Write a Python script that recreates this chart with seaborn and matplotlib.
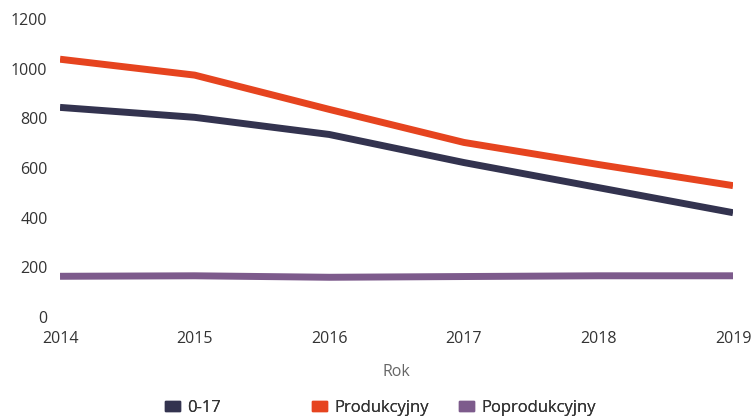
import pandas as pd
import matplotlib.pyplot as plt
import matplotlib.patches as mpatches
import seaborn as sns

# dane
lata = [2014, 2015, 2016, 2017, 2018, 2019]
grupa_0_17 = [844, 804, 735, 622, 521, 420]
produkcyjny = [1038, 974, 836, 703, 614, 529]
poprodukcyjny = [164, 166, 160, 163, 166, 166]

serie = ["0-17", "Produkcyjny", "Poprodukcyjny"]
kolory = ["#33334f", "#e6441f", "#7d5b8c"]

df = pd.DataFrame({
    "Rok": lata * 3,
    "Liczba": grupa_0_17 + produkcyjny + poprodukcyjny,
    "Grupa": [serie[0]] * 6 + [serie[1]] * 6 + [serie[2]] * 6,
})

sns.set_theme(style="white")
plt.rcParams['font.family'] = ['Open Sans', 'DejaVu Sans']

fig = plt.figure(figsize=(7.54, 4.19), dpi=100)
ax = fig.add_axes([0.0796, 0.2434, 0.8926, 0.7113])

sns.lineplot(data=df, x="Rok", y="Liczba", hue="Grupa", hue_order=serie,
             palette=kolory, linewidth=5.0, legend=False, ax=ax,
             solid_capstyle="butt")

ax.set_xlim(2014, 2019)
ax.set_ylim(0, 1200)
ax.set_yticks(range(0, 1201, 200))
ax.set_xticks(lata)
ax.tick_params(axis="both", length=0, labelsize=11.5, labelcolor="#333333")
ax.tick_params(axis="y", pad=9)
ax.tick_params(axis="x", pad=10)
for s in ax.spines.values():
    s.set_visible(False)
ax.set_ylabel("")
ax.set_xlabel("Rok", fontsize=11.5, color="#666666", labelpad=12)

# legenda - trzy osobne wpisy o stałym rozstawie
x_start = [163, 310, 457]
for nazwa, kolor, x0 in zip(serie, kolory, x_start):
    uchwyt = mpatches.Patch(color=kolor, label=nazwa)
    leg = fig.legend(handles=[uchwyt], loc="center left",
                     bbox_to_anchor=(x0 / 754 - 0.008, 1 - 408 / 419),
                     frameon=False, fontsize=12, handlelength=0.9,
                     handleheight=0.5, handletextpad=0.4, borderpad=0)
    for t in leg.get_texts():
        t.set_color("#333333")
    fig.add_artist(leg)

fig.savefig("out.png", dpi=100)
